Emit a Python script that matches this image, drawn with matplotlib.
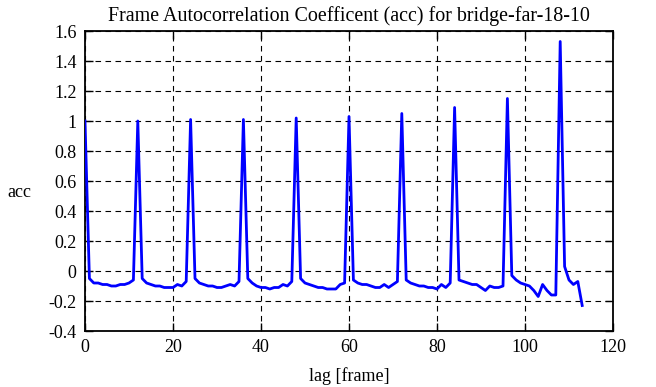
import matplotlib
matplotlib.use("Agg")
import matplotlib.pyplot as plt
from matplotlib.ticker import FormatStrFormatter, MultipleLocator

# autocorrelation values, one per lag 0..113
acc = [
    1.00,
    -0.05, -0.08, -0.08, -0.09, -0.09, -0.10, -0.10, -0.09, -0.09, -0.08, -0.06,
    1.00,
    -0.05, -0.08, -0.09, -0.10, -0.10, -0.11, -0.11, -0.11, -0.09, -0.10, -0.07,
    1.01,
    -0.05, -0.08, -0.09, -0.10, -0.10, -0.11, -0.11, -0.10, -0.09, -0.10, -0.07,
    1.01,
    -0.05, -0.08, -0.10, -0.11, -0.11, -0.12, -0.11, -0.11, -0.09, -0.10, -0.07,
    1.02,
    -0.05, -0.08, -0.09, -0.10, -0.11, -0.11, -0.12, -0.12, -0.12, -0.09, -0.08,
    1.03,
    -0.06, -0.08, -0.09, -0.09, -0.10, -0.11, -0.11, -0.09, -0.11, -0.09, -0.07,
    1.05,
    -0.06, -0.08, -0.09, -0.10, -0.10, -0.11, -0.11, -0.12, -0.09, -0.11, -0.08,
    1.09,
    -0.06, -0.07, -0.08, -0.09, -0.09, -0.11, -0.13, -0.10, -0.11, -0.11, -0.10,
    1.15,
    -0.03, -0.06, -0.08, -0.09, -0.10, -0.13, -0.17, -0.09, -0.13, -0.16, -0.16,
    1.53,
    0.03, -0.06, -0.09, -0.07, -0.23,
]
lags = list(range(len(acc)))

plt.rcParams["font.family"] = ["Liberation Serif", "DejaVu Serif"]
plt.rcParams["font.size"] = 13

fig = plt.figure(figsize=(6.56, 3.87), dpi=100)
ax = fig.add_axes([85 / 656, 56 / 387, 528 / 656, 300 / 387])

ax.plot(lags, acc, color="#0000ff", linewidth=2, zorder=3)

ax.set_xlim(0, 120)
ax.set_ylim(-0.4, 1.6)
ax.xaxis.set_major_locator(MultipleLocator(20))
ax.yaxis.set_major_locator(MultipleLocator(0.2))
ax.yaxis.set_major_formatter(FormatStrFormatter("%g"))
ax.grid(True, color="black", linestyle=(0, (5, 4)), linewidth=0.8)
ax.tick_params(direction="in", length=6, width=1, top=True, right=True, pad=6)
for s in ax.spines.values():
    s.set_linewidth(1.3)

ax.set_title("Frame Autocorrelation Coefficent (acc) for bridge-far-18-10",
             fontsize=14.4, pad=7)
ax.set_xlabel("lag [frame]", labelpad=8)
ax.set_ylabel("acc", rotation=0, va="center")
ax.yaxis.set_label_coords(-0.125, 0.463)

fig.savefig("out.png", dpi=100)
